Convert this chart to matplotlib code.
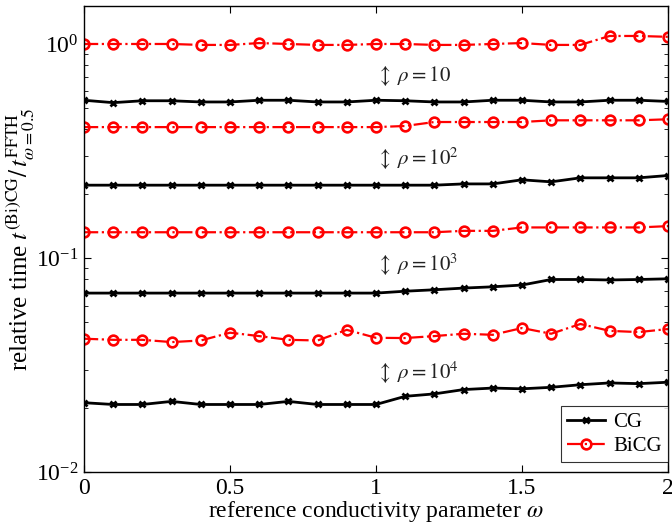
import numpy as np
import matplotlib
matplotlib.use("Agg")
import matplotlib.pyplot as plt
from matplotlib.ticker import LogLocator, NullFormatter, FixedLocator

plt.rcParams['font.family'] = ['Liberation Serif', 'DejaVu Serif']
plt.rcParams['mathtext.fontset'] = 'stix'

omega = [0.0, 0.1, 0.2, 0.3, 0.4, 0.5, 0.6, 0.7, 0.8, 0.9, 1.0,
         1.1, 1.2, 1.3, 1.4, 1.5, 1.6, 1.7, 1.8, 1.9, 2.0]

cg_rho1e1 = [0.546, 0.532, 0.543, 0.543, 0.536, 0.536, 0.546, 0.546, 0.536, 0.536, 0.546,
             0.543, 0.536, 0.536, 0.546, 0.546, 0.536, 0.536, 0.546, 0.546, 0.539]
bicg_rho1e1 = [1.00, 1.00, 1.00, 1.00, 0.99, 0.99, 1.01, 1.00, 0.99, 0.99, 1.00,
               1.00, 0.99, 0.99, 1.00, 1.01, 0.99, 0.99, 1.09, 1.09, 1.08]
cg_rho1e2 = [0.219, 0.219, 0.219, 0.219, 0.219, 0.219, 0.219, 0.219, 0.219, 0.219, 0.219,
             0.219, 0.219, 0.222, 0.222, 0.232, 0.227, 0.237, 0.237, 0.237, 0.243]
bicg_rho1e2 = [0.409, 0.409, 0.409, 0.409, 0.409, 0.409, 0.409, 0.409, 0.409, 0.409, 0.409,
               0.414, 0.432, 0.432, 0.432, 0.432, 0.440, 0.440, 0.440, 0.440, 0.445]
cg_rho1e3 = [0.0686, 0.0686, 0.0686, 0.0686, 0.0686, 0.0686, 0.0686, 0.0686, 0.0686, 0.0686, 0.0686,
             0.0700, 0.0711, 0.0724, 0.0734, 0.0748, 0.0794, 0.0794, 0.0790, 0.0794, 0.0800]
bicg_rho1e3 = [0.132, 0.132, 0.132, 0.132, 0.132, 0.132, 0.132, 0.132, 0.132, 0.132, 0.132,
               0.132, 0.132, 0.134, 0.134, 0.139, 0.139, 0.139, 0.139, 0.139, 0.141]
cg_rho1e4 = [0.0211, 0.0207, 0.0207, 0.0214, 0.0207, 0.0207, 0.0207, 0.0214, 0.0207, 0.0207, 0.0207,
             0.0226, 0.0232, 0.0243, 0.0247, 0.0245, 0.0249, 0.0256, 0.0261, 0.0259, 0.0263]
bicg_rho1e4 = [0.0420, 0.0415, 0.0415, 0.0405, 0.0412, 0.0448, 0.0432, 0.0415, 0.0412, 0.0462, 0.0424,
               0.0423, 0.0432, 0.0443, 0.0438, 0.0471, 0.0443, 0.0492, 0.0457, 0.0451, 0.0466]

cg_series = [cg_rho1e1, cg_rho1e2, cg_rho1e3, cg_rho1e4]
bicg_series = [bicg_rho1e1, bicg_rho1e2, bicg_rho1e3, bicg_rho1e4]

labels_rho = [r'$\updownarrow\ \rho = 10$', r'$\updownarrow\ \rho = 10^{2}$',
              r'$\updownarrow\ \rho = 10^{3}$', r'$\updownarrow\ \rho = 10^{4}$']
label_x = [1.0, 1.0, 1.0, 1.0]
label_y = [0.716, 0.29, 0.0927, 0.0293]

fig = plt.figure(figsize=(6.72, 5.24), dpi=100)
ax = fig.add_axes([0.125, 0.099, 0.869, 0.889])

for i in range(4):
    ax.plot(omega, cg_series[i], color='black', linestyle='-', linewidth=2.0,
            marker='x', markersize=4.5, markeredgewidth=2.0,
            label='CG' if i == 0 else None)
    ax.plot(omega, bicg_series[i], color='red', linestyle='-.', linewidth=1.6,
            marker='o', markersize=7, markeredgewidth=1.9, markerfacecolor='none',
            label='BiCG' if i == 0 else None)

for t, xx, yy in zip(labels_rho, label_x, label_y):
    ax.text(xx, yy, t, fontsize=15, va='center', ha='left', color='#222222')

ax.set_yscale('log')
ax.set_xlim(0, 2)
ax.set_ylim(1e-2, 1.5)
ax.xaxis.set_major_locator(FixedLocator([0, 0.5, 1, 1.5, 2]))
ax.set_xticklabels(['0', '0.5', '1', '1.5', '2'])
ax.yaxis.set_major_locator(LogLocator(base=10, numticks=10))
ax.yaxis.set_minor_locator(LogLocator(base=10, subs=np.arange(2, 10), numticks=10))
ax.yaxis.set_minor_formatter(NullFormatter())
ax.tick_params(which='both', direction='in', top=True, right=True, labelsize=17)
ax.tick_params(which='major', length=5, width=0.8, pad=4)
ax.tick_params(which='minor', length=3, width=0.6)
for s in ax.spines.values():
    s.set_linewidth(1.0)

ax.set_xlabel(r'reference conductivity parameter $\omega$', fontsize=17, labelpad=0)
ax.set_ylabel(r'relative time $t^{\mathrm{(Bi)CG}}/\,t^{\mathrm{FFTH}}_{\omega=0.5}$',
              fontsize=18, labelpad=0)

leg = ax.legend(loc='lower right', bbox_to_anchor=(1.0, 0.0215), fontsize=15,
                frameon=True, fancybox=False, edgecolor='black', borderaxespad=0.0,
                handlelength=1.8, handletextpad=0.4, borderpad=0.3, labelspacing=0.2)
leg.get_frame().set_linewidth(0.8)

fig.savefig('out.png', dpi=100)
